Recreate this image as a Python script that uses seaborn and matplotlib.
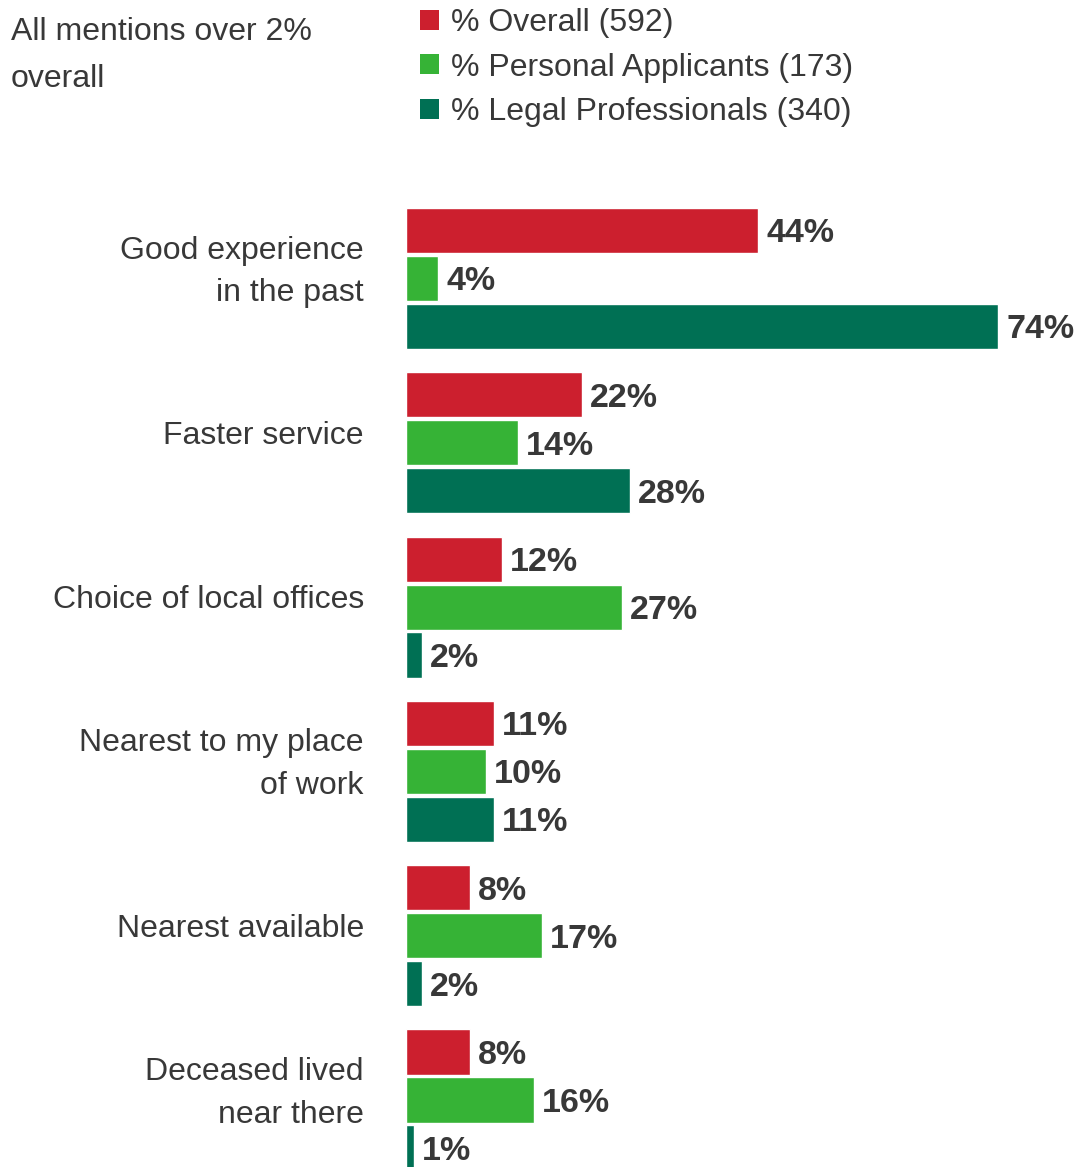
import matplotlib
matplotlib.use("Agg")
import matplotlib.pyplot as plt
from matplotlib.patches import Patch
import pandas as pd
import seaborn as sns

# Reasons for choosing the office
categories = [
    "Good experience\nin the past",
    "Faster service",
    "Choice of local offices",
    "Nearest to my place\nof work",
    "Nearest available",
    "Deceased lived\nnear there",
]
overall = [44, 22, 12, 11, 8, 8]
personal = [4, 14, 27, 10, 17, 16]
legal = [74, 28, 2, 11, 2, 1]

series_names = ["% Overall (592)", "% Personal Applicants (173)", "% Legal Professionals (340)"]
colors = ["#CC1F2E", "#36B336", "#007054"]
text_color = "#383838"

df = pd.DataFrame({
    "category": categories * 3,
    "series": [series_names[0]] * 6 + [series_names[1]] * 6 + [series_names[2]] * 6,
    "value": overall + personal + legal,
})

sns.set_theme(style="white")
plt.rcParams["font.family"] = ["Liberation Sans", "DejaVu Sans"]

fig = plt.figure(figsize=(10.89, 11.67), dpi=100)
ax = fig.add_axes([406 / 1089, 0.0, 680 / 1089, (1167 - 195) / 1167])

sns.barplot(
    data=df, y="category", x="value", hue="series",
    order=categories, hue_order=series_names, palette=colors,
    orient="h", width=0.876, gap=0.06, saturation=1,
    legend=False, ax=ax,
)

ax.set_xlim(0, 85)
ax.set_ylim(5.408, -0.508)

for cont in ax.containers:
    texts = ax.bar_label(cont, labels=[f"{v:.0f}%" for v in cont.datavalues],
                         padding=6, fontsize=24.5, fontweight="bold",
                         color=text_color, clip_on=False)
    for t in texts:
        t.set_verticalalignment("center_baseline")

# Category labels to the left of each group
ax.set_yticks([])
ax.set_ylabel("")
ax.set_xlabel("")
ax.set_xticks([])
for i, cat in enumerate(categories):
    ax.text(-0.062, i - 0.04, cat, transform=ax.get_yaxis_transform(),
            ha="right", va="center", multialignment="right",
            fontsize=23, color=text_color, linespacing=1.55)

sns.despine(ax=ax, left=True, bottom=True)

# Header note and legend
fig.text(11 / 1089, 1 - 17 / 1167, "All mentions over 2%\noverall",
         ha="left", va="top", fontsize=23, color=text_color, linespacing=1.72)

handles = [Patch(facecolor=c, edgecolor="none") for c in colors]
leg = fig.legend(handles, series_names, loc="upper left",
                 bbox_to_anchor=(420 / 1089, 1 - 8 / 1167),
                 frameon=False, fontsize=23, handlelength=0.58, handleheight=0.58,
                 handletextpad=0.4, labelspacing=0.46, borderpad=0, borderaxespad=0)
for t in leg.get_texts():
    t.set_color(text_color)

fig.savefig("out.png", dpi=100)
